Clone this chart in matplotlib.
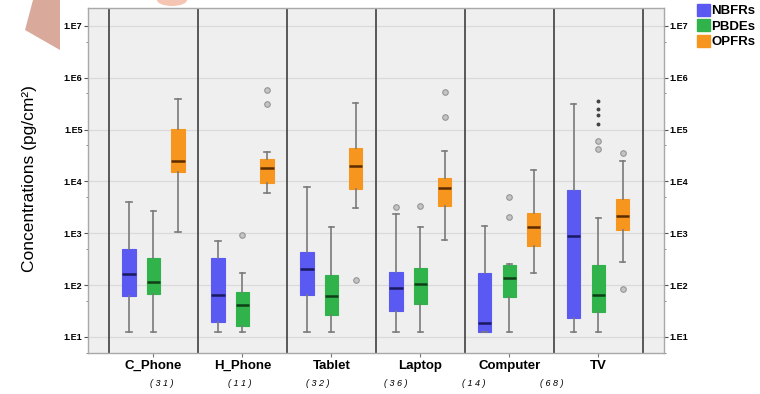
import matplotlib
matplotlib.use("Agg")
import matplotlib.pyplot as plt
import numpy as np
from matplotlib.patches import Patch, Polygon, Ellipse
from matplotlib.ticker import FixedLocator, FuncFormatter

categories = ["C_Phone", "H_Phone", "Tablet", "Laptop", "Computer", "TV"]
counts = ["( 3 1 )", "( 1 1 )", "( 3 2 )", "( 3 6 )", "( 1 4 )", "( 6 8 )"]
series = ["NBFRs", "PBDEs", "OPFRs"]
colors = ["#5a5af2", "#2fb34a", "#f7961e"]
median_colors = ["#1a1a60", "#0f3d18", "#5a2c00"]

# box stats per series, one value per category (pg/cm2)
nbfr_lo = [12.6, 12.6, 12.6, 12.6, 12.6, 12.6]
nbfr_q1 = [63, 19.5, 66, 32, 12.6, 23.4]
nbfr_med = [164, 66, 209, 89, 19, 871]
nbfr_q3 = [490, 331, 437, 178, 174, 6900]
nbfr_hi = [4070, 708, 7760, 2340, 1380, 310000]
nbfr_out = [[], [], [], [3240], [], []]
nbfr_ext = [[], [], [], [], [], []]

pbde_lo = [12.3, 12.3, 12.3, 12.3, 12.3, 12.3]
pbde_q1 = [69, 16.6, 26, 44, 59, 31]
pbde_med = [117, 42, 62, 105, 138, 65]
pbde_q3 = [339, 74, 158, 219, 240, 240]
pbde_hi = [2690, 170, 1320, 1350, 257, 2000]
pbde_out = [[], [933], [], [3390], [2040, 5130], [42700, 61700]]
pbde_ext = [[], [], [], [], [], [129000, 195000, 251000, 355000]]

opfr_lo = [1070, 5890, 3020, 741, 174, 275]
opfr_q1 = [15100, 9550, 7240, 3390, 575, 1150]
opfr_med = [25100, 18600, 19500, 7410, 1350, 2140]
opfr_q3 = [105000, 27500, 44700, 11700, 2510, 4570]
opfr_hi = [389000, 36300, 324000, 38900, 16600, 25100]
opfr_out = [[], [316000, 589000], [126], [174000, 537000], [], [85, 35500]]
opfr_ext = [[], [], [], [], [], []]

groups = [
    (nbfr_lo, nbfr_q1, nbfr_med, nbfr_q3, nbfr_hi, nbfr_out, nbfr_ext),
    (pbde_lo, pbde_q1, pbde_med, pbde_q3, pbde_hi, pbde_out, pbde_ext),
    (opfr_lo, opfr_q1, opfr_med, opfr_q3, opfr_hi, opfr_out, opfr_ext),
]

plt.rcParams["font.family"] = ["Liberation Sans", "DejaVu Sans"]

fig = plt.figure(figsize=(7.6, 3.94), dpi=100)
ax = fig.add_axes([88 / 760, 41 / 394, 576 / 760, 345 / 394])
ax.set_facecolor("#efefef")

# pale decoration in the top-left corner of the source picture
fig.patches.append(Polygon([(33 / 760, 1), (25 / 760, 1 - 30 / 394), (60 / 760, 1 - 50 / 394),
                            (60 / 760, 1)], closed=True, transform=fig.transFigure,
                           facecolor="#d9aa9c", edgecolor="none", zorder=0))
fig.patches.append(Ellipse((172 / 760, 1), 30 / 760, 12 / 394, transform=fig.transFigure,
                           facecolor="#f6c4b2", edgecolor="none", zorder=0))

x = np.arange(1, len(categories) + 1)
offsets = [-0.275, 0.0, 0.275]

for k, (lo, q1, med, q3, hi, out, ext) in enumerate(groups):
    stats = []
    for i in range(len(categories)):
        stats.append(dict(whislo=lo[i], q1=q1[i], med=med[i], q3=q3[i], whishi=hi[i], fliers=out[i]))
    ax.bxp(stats, positions=x + offsets[k], widths=0.15, capwidths=0.06, patch_artist=True,
           boxprops=dict(facecolor=colors[k], edgecolor=colors[k], linewidth=0.8),
           medianprops=dict(color=median_colors[k], linewidth=1.8),
           whiskerprops=dict(color="#7a7a7a", linewidth=1.2),
           capprops=dict(color="#7a7a7a", linewidth=1.2),
           flierprops=dict(marker="o", markersize=4, markerfacecolor="#c4c4c4",
                           markeredgecolor="#959595", markeredgewidth=0.8),
           zorder=3)
    for i in range(len(categories)):
        if ext[i]:
            ax.plot([x[i] + offsets[k]] * len(ext[i]), ext[i], linestyle="none", marker="o",
                    markersize=1.8, color="#444444", zorder=4)

for sep in np.arange(0.5, len(categories) + 1, 1.0):
    ax.axvline(sep, color="#4d4d4d", linewidth=1.3, zorder=2)

ax.set_yscale("log")
ax.set_ylim(10 ** 0.691, 10 ** 7.347)
ax.set_xlim(0.264, 6.74)

major = [10.0 ** p for p in range(1, 8)]
ax.yaxis.set_major_locator(FixedLocator(major))
ax.yaxis.set_minor_locator(FixedLocator([5 * 10.0 ** p for p in range(0, 7)]))
ax.yaxis.set_major_formatter(FuncFormatter(lambda v, pos: "1.E%d" % round(np.log10(v))))
ax.yaxis.set_minor_formatter(FuncFormatter(lambda v, pos: ""))
ax.grid(axis="y", which="major", color="#dadada", linewidth=0.9, zorder=1)
ax.set_axisbelow(True)

ax.tick_params(axis="y", which="major", left=True, right=True, labelleft=True, labelright=True,
               length=3, width=0.8, color="#555555", labelsize=6.5, pad=1)
ax.tick_params(axis="y", which="minor", left=True, right=True, length=1.5, width=0.6, color="#777777")
for lab in ax.yaxis.get_ticklabels(which="major"):
    lab.set_fontweight("bold")

ax.set_xticks(x)
ax.set_xticklabels(categories, fontsize=9.5, fontweight="bold")
ax.tick_params(axis="x", length=3, width=0.8, color="#777777", pad=2)

for s in ax.spines.values():
    s.set_color("#a8a8a8")
    s.set_linewidth(1.0)

count_x = 1.09 + 0.878 * np.arange(len(counts))
for cx, c in zip(count_x, counts):
    ax.text(cx, -0.087, c, transform=ax.get_xaxis_transform(), ha="center", va="center",
            fontsize=6.5, fontstyle="italic")

fig.text(30 / 760, 1 - 179 / 394, "Concentrations (pg/cm²)", rotation=90,
         ha="center", va="center", fontsize=12.5)

handles = [Patch(facecolor=c, edgecolor=c) for c in colors]
leg = fig.legend(handles, series, loc="upper left", bbox_to_anchor=(697 / 760, 1 - 4 / 394),
                 frameon=False, handlelength=1.0, handleheight=1.0, handletextpad=0.1,
                 labelspacing=0.15, borderaxespad=0, borderpad=0,
                 prop=dict(size=9.5, weight="bold"))

fig.savefig("out.png", dpi=100)
